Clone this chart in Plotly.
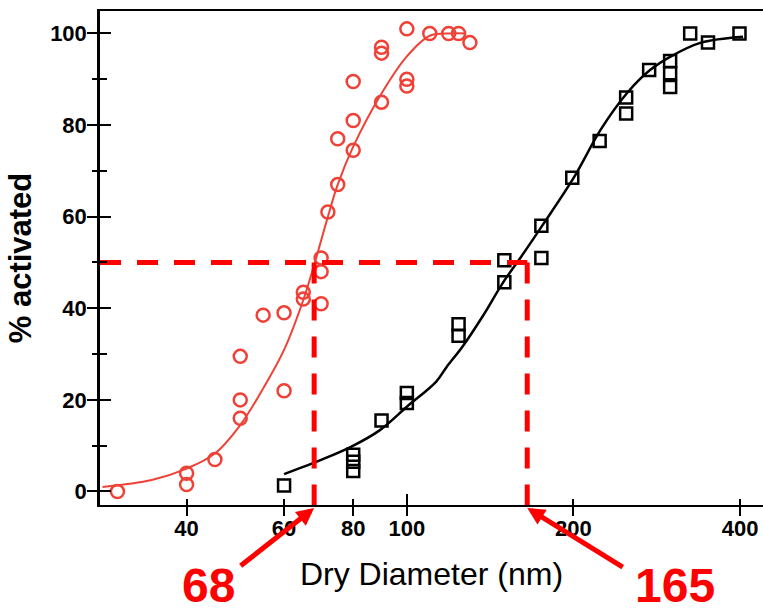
import math
import plotly.graph_objects as go

# Activation of particles vs. dry diameter: two aerosol types
red_d = [30, 40, 40, 45, 50, 50, 50, 55, 60, 60, 65, 65, 70, 70, 70, 72, 75, 75,
         80, 80, 80, 90, 90, 90, 100, 100, 100, 110, 119, 124, 130]
red_p = [0, 4, 1.5, 7, 16, 20, 29.5, 38.5, 39, 22, 43.5, 42, 41, 48, 51, 61, 67, 77,
         74.5, 81, 89.5, 85, 95.7, 97, 88.5, 90, 101, 100, 100, 100, 98]

red_fit_d = [28.2, 34.6, 40, 45, 50, 55, 60, 65, 68.2, 72, 75, 80, 90, 100, 110, 120, 128]
red_fit_p = [1, 2.5, 5, 8.3, 14.5, 22.5, 30.9, 41.8, 50, 60, 67, 75.3, 86.9, 95, 99.5, 100, 100]

blk_d = [60, 80, 80, 80, 90, 100, 100, 124, 124, 150, 150, 175, 175, 199, 223,
         249, 249, 274, 299, 299, 299, 325, 350, 399]
blk_p = [1.3, 4.5, 6.5, 8, 15.5, 19.3, 21.5, 34, 36.5, 45.7, 50.5, 51, 58, 68.5, 76.5,
         82.5, 86, 92, 88.3, 91.3, 94, 100, 98, 100]

blk_fit_d = [60, 70, 79.4, 89.4, 100, 113, 118, 126, 137, 149, 161, 176, 200, 224, 250, 275, 300, 340, 405]
blk_fit_p = [3.8, 6.9, 9.8, 13.4, 18.5, 24, 27.2, 31.6, 38.2, 45.5, 51.3, 58.2, 68.4, 79, 87, 92, 95, 98, 99.3]

# 50 % activation diameters
act_level = 50
d50_values = [68, 165]
d50_labels = ["68", "165"]

x_ticks = [40, 60, 80, 100, 200, 400]
y_ticks = [0, 20, 40, 60, 80, 100]
y_minor = [10, 30, 50, 70, 90]

x_lo, x_hi = 27.9, 440
y_lo, y_hi = -2.95, 104.9

RED = "#ef4136"
HI = "#ff0000"
FONT = "Liberation Sans"

fig = go.Figure()

fig.add_trace(go.Scatter(x=red_fit_d, y=red_fit_p, mode="lines",
                         line=dict(color=RED, width=2, shape="spline"),
                         showlegend=False, hoverinfo="skip"))
fig.add_trace(go.Scatter(x=red_d, y=red_p, mode="markers",
                         marker=dict(symbol="circle-open", size=13, color=RED,
                                     line=dict(width=2.5, color=RED)),
                         showlegend=False))
fig.add_trace(go.Scatter(x=blk_fit_d, y=blk_fit_p, mode="lines",
                         line=dict(color="black", width=2.5, shape="spline"),
                         showlegend=False, hoverinfo="skip"))
fig.add_trace(go.Scatter(x=blk_d, y=blk_p, mode="markers",
                         marker=dict(symbol="square-open", size=12, color="black",
                                     line=dict(width=2.5, color="black")),
                         showlegend=False))

# dashed guide lines at the 50 % level (on the overlay subplot so they sit on top)
dash = dict(color=HI, width=5, dash="21px,16px")
fig.add_trace(go.Scatter(x=[x_lo, max(d50_values)], y=[act_level, act_level],
                         mode="lines", line=dash, xaxis="x2", yaxis="y2",
                         showlegend=False, hoverinfo="skip"))
for d in d50_values:
    fig.add_trace(go.Scatter(x=[d, d], y=[act_level, y_lo], mode="lines", line=dash,
                             xaxis="x2", yaxis="y2", showlegend=False, hoverinfo="skip"))

tick_font = dict(family=FONT, size=22, color="black", weight="bold")

fig.update_layout(
    width=763, height=616,
    margin=dict(l=100, r=0, t=11, b=111, pad=0),
    paper_bgcolor="white", plot_bgcolor="white",
    xaxis=dict(type="log", range=[math.log10(x_lo), math.log10(x_hi)],
               tickmode="array", tickvals=x_ticks, ticktext=[str(v) for v in x_ticks],
               ticks="outside", ticklen=9, tickwidth=2, tickcolor="black",
               ticklabelstandoff=-6,
               showline=True, linecolor="black", linewidth=2, mirror=True,
               showgrid=False, zeroline=False, tickfont=tick_font,
               title=dict(text="Dry Diameter (nm)", standoff=22,
                          font=dict(family=FONT, size=32, color="black"))),
    yaxis=dict(range=[y_lo, y_hi], tickmode="array", tickvals=y_ticks,
               ticks="outside", ticklen=10, tickwidth=2, tickcolor="black",
               ticklabelstandoff=-4,
               minor=dict(tickmode="array", tickvals=y_minor, ticks="outside",
                          ticklen=5, tickwidth=2, tickcolor="black"),
               showline=True, linecolor="black", linewidth=2.5,
               showgrid=False, zeroline=False, tickfont=tick_font,
               title=dict(text="% activated", standoff=10,
                          font=dict(family=FONT, size=31, color="black", weight="bold"))),
    xaxis2=dict(type="log", range=[math.log10(x_lo), math.log10(x_hi)],
                overlaying="x", anchor="y2", side="bottom",
                tickmode="array", tickvals=[100], ticks="inside", ticklen=11,
                tickwidth=2, tickcolor="black", showticklabels=False,
                minor=dict(tickmode="array", tickvals=[40, 60, 80, 200, 400],
                           ticks="inside", ticklen=6, tickwidth=2, tickcolor="black"),
                showline=False, showgrid=False, zeroline=False),
    yaxis2=dict(range=[y_lo, y_hi], overlaying="y", anchor="x2", side="left",
                tickmode="array", tickvals=y_ticks, ticks="inside", ticklen=11,
                tickwidth=2, tickcolor="black", showticklabels=False,
                minor=dict(tickmode="array", tickvals=y_minor, ticks="inside",
                           ticklen=7, tickwidth=2, tickcolor="black"),
                showline=False, showgrid=False, zeroline=False),
)

# arrows pointing at the 50 % diameters, with their values
arrow_tails = [(-75, 59), (97, 60)]
label_pos = [(0.163, -0.2206), (0.867, -0.2206)]
for d, lab, (ax, ay), (lx, ly) in zip(d50_values, d50_labels, arrow_tails, label_pos):
    fig.add_annotation(x=math.log10(d), y=-0.006, xref="x", yref="paper",
                       text="", showarrow=True, ax=ax, ay=ay,
                       arrowhead=2, arrowsize=0.7, arrowwidth=5, arrowcolor=HI,
                       standoff=0)
    fig.add_annotation(x=lx, y=ly, xref="paper", yref="paper", text=lab,
                       showarrow=False, xanchor="center", yanchor="bottom",
                       font=dict(family=FONT, size=48, color=HI, weight="bold"))

fig.write_html("out.html")
